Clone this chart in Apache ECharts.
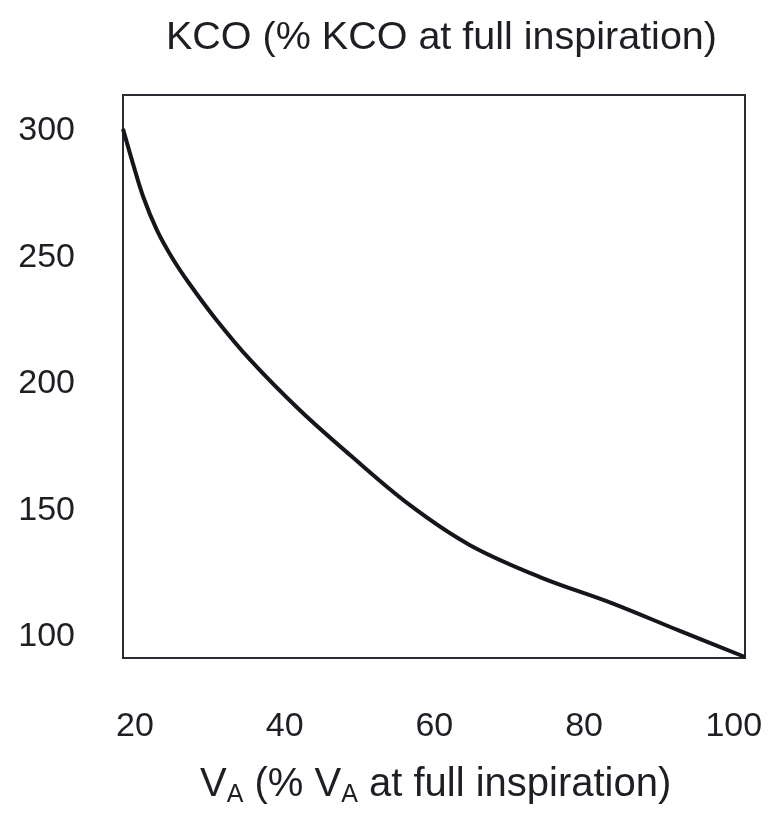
<!DOCTYPE html>
<html>
<head>
<meta charset="utf-8">
<script src="https://cdn.jsdelivr.net/npm/echarts@6/dist/echarts.min.js"></script>
<style>
html,body{margin:0;padding:0;background:#fff;}
#chart{width:773px;height:814px;}
</style>
</head>
<body>
<div id="chart"></div>
<script>
// Data
const vaValues = [18.4, 19.7, 21.1, 22.9, 24.9, 27.3, 30.7, 35.4, 42.0, 48.7, 56.7, 64.7, 74.1, 83.7, 92.8, 101.5];
const kcoValues = [300.8, 287.4, 274, 261, 250.2, 239.5, 226, 209.5, 189.7, 172, 152.2, 136.4, 123.7, 113.4, 102.4, 92.1];
const xTicks = [20, 40, 60, 80, 100];
const yTicks = [100, 150, 200, 250, 300];
const titleText = 'KCO (% KCO at full inspiration)';

const chart = echarts.init(document.getElementById('chart'), null, {renderer: 'canvas'});
const fontFam = '"Liberation Sans", Arial, sans-serif';
const txtColor = '#1e1e24';

chart.setOption({
  backgroundColor: '#ffffff',
  animation: false,
  title: [
    {
      text: titleText,
      left: 161,
      top: 13,
      textStyle: {fontFamily: fontFam, fontSize: 39.5, fontWeight: 'normal', color: txtColor}
    },
    {
      text: '{a|V}{b|A}{a| (% V}{b|A}{a| at full inspiration)}',
      left: 195,
      top: 757,
      textStyle: {
        rich: {
          a: {fontFamily: fontFam, fontSize: 40, fontWeight: 'normal', color: txtColor, lineHeight: 46, verticalAlign: 'middle'},
          b: {fontFamily: fontFam, fontSize: 25, fontWeight: 'normal', color: txtColor, lineHeight: 46, verticalAlign: 'bottom'}
        }
      }
    }
  ],
  grid: {
    left: 123, right: 28, top: 95, bottom: 156,
    show: true, borderColor: '#2a2a33', borderWidth: 2, backgroundColor: 'transparent'
  },
  xAxis: {
    type: 'value',
    min: 18.4, max: 101.5,
    axisLine: {show: false},
    axisTick: {show: false},
    splitLine: {show: false},
    axisLabel: {
      customValues: xTicks,
      margin: 52,
      fontFamily: fontFam, fontSize: 34, color: txtColor
    }
  },
  yAxis: {
    type: 'value',
    min: 91.7, max: 314.2,
    axisLine: {show: false},
    axisTick: {show: false},
    splitLine: {show: false},
    axisLabel: {
      customValues: yTicks,
      margin: 48,
      fontFamily: fontFam, fontSize: 34, color: txtColor
    }
  },
  series: [{
    type: 'line',
    data: vaValues.map((v, i) => [v, kcoValues[i]]),
    smooth: 0.35,
    symbol: 'none',
    lineStyle: {color: '#15151c', width: 4},
    clip: false
  }]
});
</script>
</body>
</html>
